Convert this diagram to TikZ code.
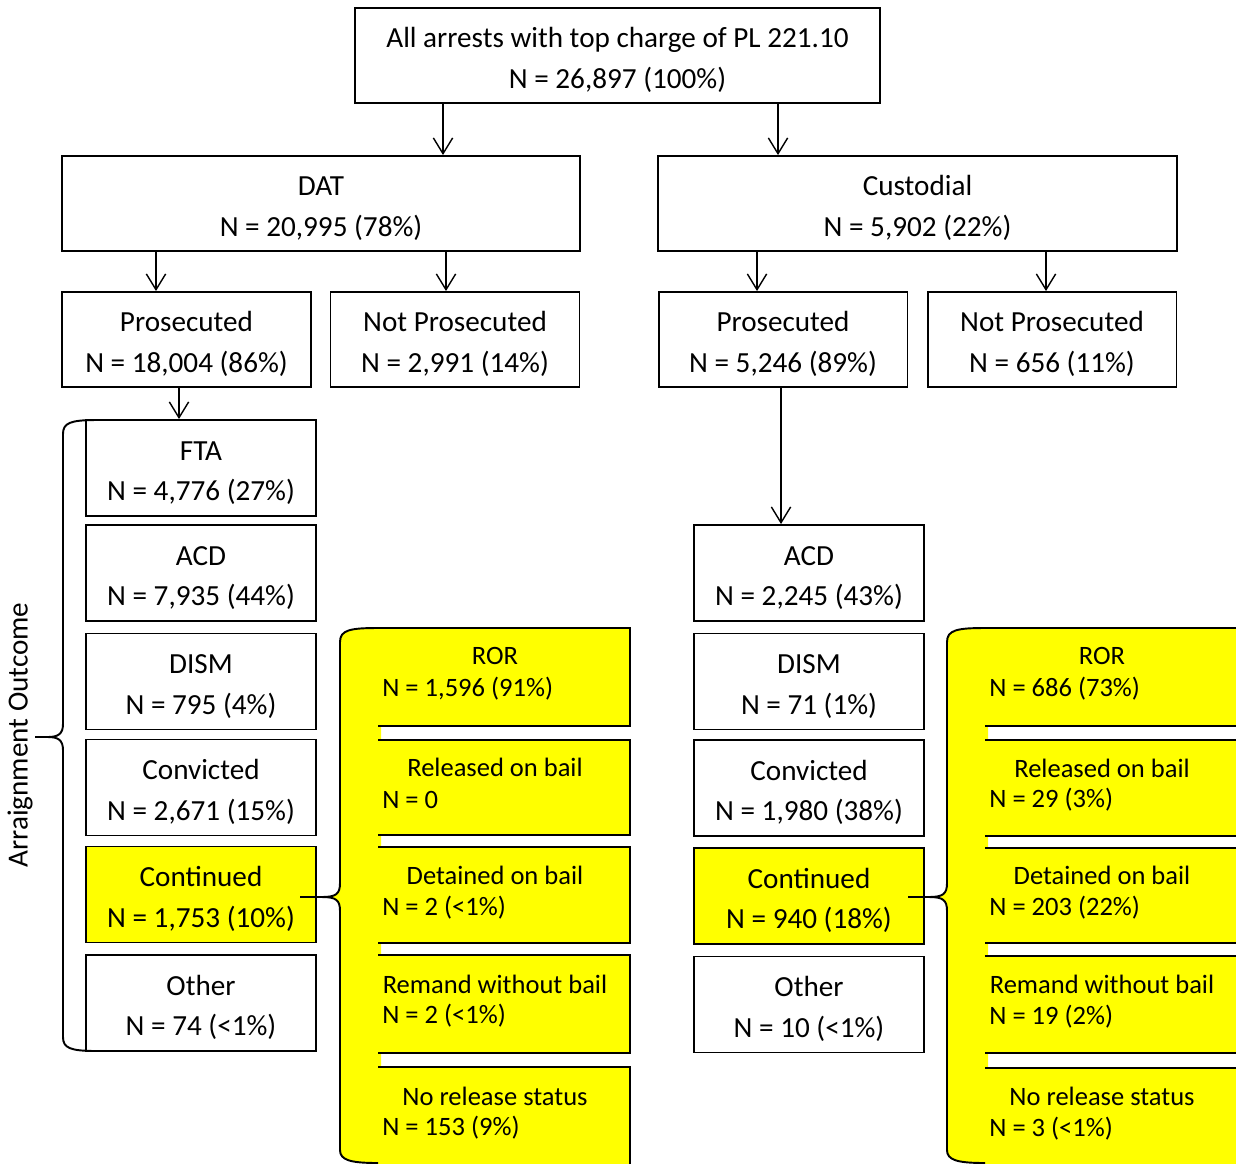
\documentclass[tikz,border=0pt]{standalone}
\usepackage{fontspec}
\setmainfont{Carlito}
\usetikzlibrary{arrows.meta}
\definecolor{hiyellow}{RGB}{255,255,0}
\def\firstline{\rule{0pt}{16.5pt}}
\tikzset{
	box/.style={draw, line width=1.1pt, align=center, inner sep=0pt, minimum height=1.9cm, font=\fontsize{16.6}{23.3}\selectfont},
	widebox/.style={box, minimum width=10.38cm},
	halfbox/.style={box, minimum width=4.98cm},
	colbox/.style={box, minimum width=4.6cm, minimum height=1.92cm},
	arr/.style={line width=0.8pt, -{Straight Barb[length=9pt,width=11pt]}},
	rel/.style={inner sep=0pt, font=\fontsize{15.1}{18}\selectfont},
	edge/.style={line width=1.1pt},
}

\begin{document}
\begin{tikzpicture}[x=0.02cm, y=-0.02cm]
	%%%%% START %%%%%
	\useasboundingbox (0,0) rectangle (1236,1163);
	\clip (0,0) rectangle (1236,1163);
	
	\node[widebox, minimum width=10.5cm] (all) at (617.5,55.5) {\firstline All arrests with top charge of PL 221.10\\N = 26,897 (100\%)};
	
	\node[widebox] (dat) at (321,203.5) {\firstline DAT\\N = 20,995 (78\%)};
	\node[widebox] (cust) at (917.5,203.5) {\firstline Custodial\\N = 5,902 (22\%)};
	
	\node[halfbox] (datpros) at (186.5,339.5) {\firstline Prosecuted\\N = 18,004 (86\%)};
	\node[halfbox] (datnot) at (455,339.5) {\firstline Not Prosecuted\\N = 2,991 (14\%)};
	\node[halfbox] (custpros) at (783,339.5) {\firstline Prosecuted\\N = 5,246 (89\%)};
	\node[halfbox] (custnot) at (1052,339.5) {\firstline Not Prosecuted\\N = 656 (11\%)};
	
	\node[colbox] (datfta) at (201,468) {\firstline FTA\\N = 4,776 (27\%)};
	\node[colbox] (datacd) at (201,573) {\firstline ACD\\N = 7,935 (44\%)};
	\node[colbox] (datdism) at (201,681.5) {\firstline DISM\\N = 795 (4\%)};
	\node[colbox] (datconv) at (201,787.5) {\firstline Convicted\\N = 2,671 (15\%)};
	\node[colbox, fill=hiyellow] (datcont) at (201,894.5) {\firstline Continued\\N = 1,753 (10\%)};
	\node[colbox] (datother) at (201,1003) {\firstline Other\\N = 74 (<1\%)};
	
	\node[colbox] (custacd) at (809,573) {\firstline ACD\\N = 2,245 (43\%)};
	\node[colbox] (custdism) at (809,681.5) {\firstline DISM\\N = 71 (1\%)};
	\node[colbox] (custconv) at (809,788) {\firstline Convicted\\N = 1,980 (38\%)};
	\node[colbox, fill=hiyellow] (custcont) at (809,896) {\firstline Continued\\N = 940 (18\%)};
	\node[colbox] (custother) at (809,1004.5) {\firstline Other\\N = 10 (<1\%)};
	
	\draw[arr] (all.south -| 443,0) -- (dat.north -| 443,0);
	\draw[arr] (all.south -| 778,0) -- (cust.north -| 778,0);
	\draw[arr] (dat.south -| 156,0) -- (datpros.north -| 156,0);
	\draw[arr] (dat.south -| 446,0) -- (datnot.north -| 446,0);
	\draw[arr] (cust.south -| 757,0) -- (custpros.north -| 757,0);
	\draw[arr] (cust.south -| 1046,0) -- (custnot.north -| 1046,0);
	\draw[arr] (datpros.south -| 179,0) -- (datfta.north -| 179,0);
	\draw[arr] (custpros.south -| 781,0) -- (custacd.north -| 781,0);
	
	% arraignment brace
	\draw[edge] (97,420) .. controls (70,420) and (63,423) .. (63,434) -- (63,724) .. controls (63,734) and (58,737) .. (48,737) -- (35,737)
		(48,737) .. controls (58,737) and (63,740) .. (63,750) -- (63,1037) .. controls (63,1048) and (70,1051) .. (97,1051);
	\node[rotate=90, inner sep=0pt, font=\fontsize{16.6}{23.3}\selectfont] (outcome) at (20,735) {Arraignment Outcome};
	
	% release status, DAT
	\fill[hiyellow] (381,628) -- (378,628) .. controls (350,628) and (340,630) .. (340,642) -- (340,883) .. controls (340,894) and (336,897) .. (322,897)
		.. controls (336,897) and (340,900) .. (340,911) -- (340,1150) .. controls (340,1160) and (350,1163) .. (378,1163) -- (381,1163) -- cycle;
	\fill[hiyellow] (378,628) rectangle (630,726);
	\fill[hiyellow] (378,740) rectangle (630,835);
	\fill[hiyellow] (378,847) rectangle (630,943);
	\fill[hiyellow] (378,955) rectangle (630,1053);
	\fill[hiyellow] (378,1067) rectangle (630,1170);
	\draw[edge] (378,628) -- (630,628) -- (630,726) -- (378,726);
	\draw[edge] (378,740) -- (630,740) -- (630,835) -- (378,835);
	\draw[edge] (378,847) -- (630,847) -- (630,943) -- (378,943);
	\draw[edge] (378,955) -- (630,955) -- (630,1053) -- (378,1053);
	\draw[edge] (378,1067) -- (630,1067) -- (630,1170);
	\draw[edge] (378,628) .. controls (350,628) and (340,630) .. (340,642) -- (340,883) .. controls (340,894) and (336,897) .. (322,897) -- (300,897)
		(322,897) .. controls (336,897) and (340,900) .. (340,911) -- (340,1150) .. controls (340,1160) and (350,1163) .. (378,1163);
	
	\node[rel] (datror) at (495,656) {ROR};
	\node[rel, anchor=west] (datrorn) at (382,689) {N = 1,596 (91\%)};
	\node[rel] (datbail) at (495,767) {Released on bail};
	\node[rel, anchor=west] (datbailn) at (382,800) {N = 0};
	\node[rel] (datdet) at (495,875) {Detained on bail};
	\node[rel, anchor=west] (datdetn) at (382,908) {N = 2 (<1\%)};
	\node[rel] (datrem) at (495,984) {Remand without bail};
	\node[rel, anchor=west] (datremn) at (382,1016) {N = 2 (<1\%)};
	\node[rel] (datnone) at (495,1096) {No release status};
	\node[rel, anchor=west] (datnonen) at (382,1128) {N = 153 (9\%)};
	
	% release status, custodial
	\fill[hiyellow] (988,628) -- (985,628) .. controls (957,628) and (947,630) .. (947,642) -- (947,883) .. controls (947,894) and (943,897) .. (929,897)
		.. controls (943,897) and (947,900) .. (947,911) -- (947,1150) .. controls (947,1160) and (957,1163) .. (985,1163) -- (988,1163) -- cycle;
	\fill[hiyellow] (985,628) rectangle (1240,726);
	\fill[hiyellow] (985,740) rectangle (1240,836);
	\fill[hiyellow] (985,848) rectangle (1240,943);
	\fill[hiyellow] (985,956) rectangle (1240,1053);
	\fill[hiyellow] (985,1068) rectangle (1240,1170);
	\draw[edge] (985,628) -- (1240,628) (985,726) -- (1240,726);
	\draw[edge] (985,740) -- (1240,740) (985,836) -- (1240,836);
	\draw[edge] (985,848) -- (1240,848) (985,943) -- (1240,943);
	\draw[edge] (985,956) -- (1240,956) (985,1053) -- (1240,1053);
	\draw[edge] (985,1068) -- (1240,1068);
	\draw[edge] (985,628) .. controls (957,628) and (947,630) .. (947,642) -- (947,883) .. controls (947,894) and (943,897) .. (929,897) -- (908,897)
		(929,897) .. controls (943,897) and (947,900) .. (947,911) -- (947,1150) .. controls (947,1160) and (957,1163) .. (985,1163);
	
	\node[rel] (custror) at (1102,656) {ROR};
	\node[rel, anchor=west] (custrorn) at (989,689) {N = 686 (73\%)};
	\node[rel] (custbail) at (1102,768) {Released on bail};
	\node[rel, anchor=west] (custbailn) at (989,800) {N = 29 (3\%)};
	\node[rel] (custdet) at (1102,875) {Detained on bail};
	\node[rel, anchor=west] (custdetn) at (989,908) {N = 203 (22\%)};
	\node[rel] (custrem) at (1102,984) {Remand without bail};
	\node[rel, anchor=west] (custremn) at (989,1017) {N = 19 (2\%)};
	\node[rel] (custnone) at (1102,1096) {No release status};
	\node[rel, anchor=west] (custnonen) at (989,1129) {N = 3 (<1\%)};
	%%%%% END %%%%%
\end{tikzpicture}
\end{document}
